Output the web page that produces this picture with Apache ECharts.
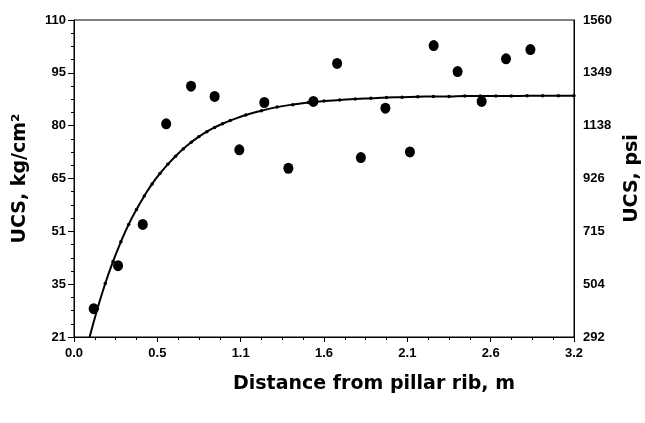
<!DOCTYPE html>
<html>
<head>
<meta charset="utf-8">
<script src="https://cdn.jsdelivr.net/npm/echarts@6/dist/echarts.min.js"></script>
<style>html,body{margin:0;padding:0;background:#fff}#c{width:645px;height:423px}</style>
</head>
<body>
<div id="c"></div>
<script>
// Measured UCS (kg/cm2) vs distance from pillar rib (m)
const pointX = [0.126, 0.282, 0.44, 0.59, 0.749, 0.90, 1.058, 1.218, 1.372, 1.532, 1.684, 1.836, 1.993, 2.15, 2.302, 2.455, 2.609, 2.765, 2.921];
const pointY = [28.5, 40.6, 52.2, 80.5, 91.1, 88.2, 73.2, 86.5, 68.0, 86.8, 97.5, 71.0, 84.9, 72.6, 102.5, 95.2, 86.8, 98.8, 101.4];
// Fitted curve
const curveX = [0.10, 0.15, 0.20, 0.25, 0.30, 0.35, 0.40, 0.45, 0.50, 0.55, 0.60, 0.65, 0.70, 0.75, 0.80, 0.85, 0.90, 0.95, 1.00, 1.10, 1.20, 1.30, 1.40, 1.50, 1.60, 1.70, 1.80, 1.90, 2.00, 2.10, 2.20, 2.30, 2.40, 2.50, 2.60, 2.70, 2.80, 2.90, 3.00, 3.10, 3.20];
const curveY = [20.5, 28.5, 35.6, 41.8, 47.3, 52.2, 56.4, 60.2, 63.6, 66.5, 69.1, 71.4, 73.5, 75.3, 76.9, 78.3, 79.5, 80.5, 81.4, 83.0, 84.2, 85.2, 85.9, 86.5, 86.9, 87.2, 87.5, 87.7, 87.9, 88.0, 88.1, 88.2, 88.2, 88.3, 88.3, 88.3, 88.3, 88.4, 88.4, 88.4, 88.4];
const xTickLabels = ['0.0', '0.5', '1.1', '1.6', '2.1', '2.6', '3.2'];
const leftTickLabels = ['21', '35', '51', '65', '80', '95', '110'];
const rightTickLabels = ['292', '504', '715', '926', '1138', '1349', '1560'];
const psiMin = 292, psiMax = 1560, psiPerKg = 14.22;

const kgMin = psiMin / psiPerKg, kgMax = psiMax / psiPerKg;
const kgInt = (kgMax - kgMin) / 6;
const psiInt = (psiMax - psiMin) / 6;
const xMin = 0, xMax = 3.2, xInt = (xMax - xMin) / 6;

const labelFont = {fontFamily: 'Liberation Sans, Arial', fontWeight: 'bold', fontSize: 13, color: '#000'};
const titleFont = {fontFamily: 'DejaVu Sans', fontWeight: 'bold', fontSize: 19, color: '#000'};

const chart = echarts.init(document.getElementById('c'), null, {renderer: 'canvas'});
chart.setOption({
  animation: false,
  backgroundColor: '#fff',
  grid: {left: 74, right: 71, top: 20, bottom: 86, show: true, borderColor: '#000', borderWidth: 1,
         containLabel: false, outerBoundsMode: 'none'},
  xAxis: {
    type: 'value', min: xMin, max: xMax, interval: xInt,
    name: 'Distance from pillar rib, m', nameLocation: 'middle', nameGap: 38,
    nameTextStyle: Object.assign({padding: [0, 0, 0, 100]}, titleFont),
    axisLine: {lineStyle: {color: '#000', width: 1}},
    axisTick: {show: true, inside: false, length: 5, lineStyle: {color: '#000'}},
    minorTick: {show: true, splitNumber: 4, length: 3, lineStyle: {color: '#000'}},
    splitLine: {show: false},
    axisLabel: Object.assign({margin: 10, formatter: v => xTickLabels[Math.round((v - xMin) / xInt)]}, labelFont)
  },
  yAxis: [{
    type: 'value', min: kgMin, max: kgMax, interval: kgInt,
    name: 'UCS, kg/cm²', nameLocation: 'middle', nameGap: 44, nameRotate: 90, nameTextStyle: titleFont,
    axisLine: {lineStyle: {color: '#000', width: 1}},
    axisTick: {show: true, inside: false, length: 6, lineStyle: {color: '#000'}},
    minorTick: {show: true, splitNumber: 4, length: 3, lineStyle: {color: '#000'}},
    splitLine: {show: false},
    axisLabel: Object.assign({margin: 8, formatter: v => leftTickLabels[Math.round((v - kgMin) / kgInt)]}, labelFont)
  }, {
    type: 'value', position: 'right', min: psiMin, max: psiMax, interval: psiInt,
    name: 'UCS, psi', nameLocation: 'middle', nameGap: 46, nameRotate: 90, nameTextStyle: titleFont,
    axisLine: {show: true, lineStyle: {color: '#000', width: 1}},
    axisTick: {show: false},
    splitLine: {show: false},
    axisLabel: Object.assign({margin: 9, formatter: v => rightTickLabels[Math.round((v - psiMin) / psiInt)]}, labelFont)
  }],
  series: [{
    type: 'line', data: curveX.map((x, i) => [x, curveY[i]]),
    showSymbol: true, symbol: 'circle', symbolSize: 3.5, smooth: true,
    lineStyle: {color: '#000', width: 2}, itemStyle: {color: '#000'}
  }, {
    type: 'scatter', data: pointX.map((x, i) => [x, pointY[i]]),
    symbol: 'circle', symbolSize: [10, 11], itemStyle: {color: '#000', opacity: 1}
  }]
});
</script>
</body>
</html>
